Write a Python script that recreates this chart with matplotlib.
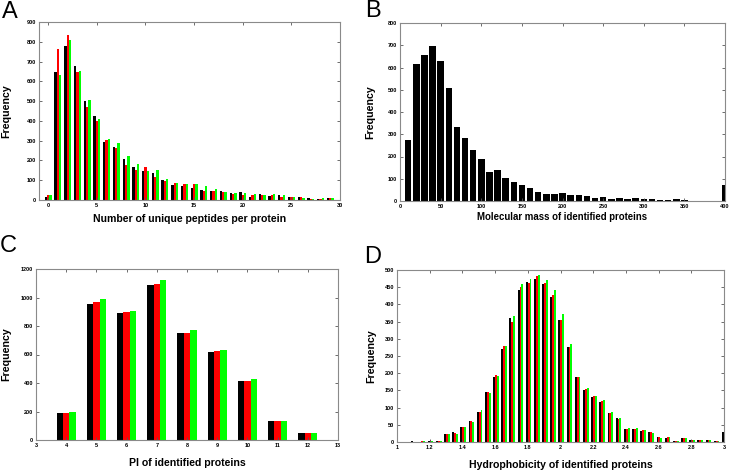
import numpy as np
import matplotlib
matplotlib.use("Agg")
import matplotlib.pyplot as plt

plt.rcParams["font.family"] = ["Liberation Sans", "DejaVu Sans"]

# ==========================================
# data
# ==========================================
# A: unique peptides per protein, three runs
pep_x = list(range(0, 30))
pep_black = [17, 646, 779, 678, 503, 427, 293, 266, 207, 165, 148, 138, 101, 78, 71,
             62, 51, 44, 44, 37, 39, 17, 30, 20, 24, 13, 15, 10, 7, 10]
pep_red = [24, 766, 836, 646, 472, 401, 305, 261, 179, 150, 165, 118, 96, 86, 79,
           79, 47, 44, 42, 30, 25, 24, 25, 27, 15, 15, 13, 7, 5, 10]
pep_green = [27, 631, 807, 653, 508, 408, 309, 287, 221, 182, 145, 153, 105, 86, 79,
             79, 71, 57, 42, 35, 34, 29, 25, 29, 24, 17, 12, 7, 8, 8]

# B: molecular mass histogram
mass_x = [10 * k for k in range(1, 41)]
mass_freq = [272, 615, 658, 696, 628, 509, 334, 285, 230, 191,
             131, 139, 104, 87, 73, 58, 40, 31, 33, 34,
             28, 25, 21, 15, 16, 9, 15, 10, 13, 9,
             7, 4, 5, 8, 3, 2, 1, 1, 1, 73]

# C: pI of identified proteins
pi_x = [4, 5, 6, 7, 8, 9, 10, 11, 12]
pi_black = [190, 955, 888, 1088, 750, 620, 412, 130, 50]
pi_red = [190, 965, 895, 1097, 750, 625, 415, 130, 50]
pi_green = [197, 990, 907, 1120, 772, 630, 428, 132, 50]

# D: hydrophobicity
hyd_x = [round(1.1 + 0.05 * k, 2) for k in range(39)]
hyd_black = [2, 1, 3, 2, 23, 28, 43, 60, 88, 144, 188, 271, 360, 441, 466, 473, 459, 421, 355,
             275, 188, 151, 132, 116, 85, 69, 38, 38, 32, 28, 14, 13, 4, 12, 6, 5, 5, 4, 28]
hyd_red = [1, 2, 5, 2, 23, 25, 43, 60, 88, 144, 195, 280, 350, 450, 461, 484, 461, 428, 355,
           275, 188, 155, 134, 118, 85, 67, 38, 39, 34, 28, 14, 15, 4, 12, 6, 5, 6, 4, 0]
hyd_green = [1, 2, 4, 2, 22, 23, 44, 59, 93, 143, 191, 280, 367, 458, 473, 486, 472, 442, 372,
             285, 188, 158, 135, 121, 86, 70, 40, 41, 35, 27, 13, 15, 4, 11, 5, 5, 5, 4, 0]

FRAME = "#8a8a8a"
COLORS = ["black", "#ff0000", "#00ff00"]


def style_axes(ax, xlim, ylim, xticks, yticks, xlabel, xl_off, yl_off, xl_size=7.6):
    ax.set_xlim(*xlim)
    ax.set_ylim(*ylim)
    ax.set_xticks(xticks)
    ax.set_yticks(yticks)
    ax.tick_params(direction="in", top=True, right=True, length=2, width=0.6,
                   labelsize=4, pad=2, color="#555555")
    for lab in ax.get_xticklabels() + ax.get_yticklabels():
        lab.set_fontweight("bold")
    for sp in ax.spines.values():
        sp.set_color(FRAME)
        sp.set_linewidth(0.8)
    ax.set_xlabel(xlabel, fontsize=xl_size, fontweight="bold")
    ax.xaxis.label.set_va("center")
    ax.xaxis.set_label_coords(0.5, xl_off)
    ax.set_ylabel("Frequency", fontsize=7.7, fontweight="bold")
    ax.yaxis.label.set_va("center")
    ax.yaxis.set_label_coords(yl_off, 0.5)


def grouped(ax, x, series, width, shift=0.0):
    x = np.asarray(x, dtype=float)
    for i, (vals, col) in enumerate(zip(series, COLORS)):
        ax.bar(x + shift + (i - 1) * width, vals, width=width, color=col,
               linewidth=0, align="center")


W, H = 731, 472
fig = plt.figure(figsize=(W / 100, H / 100), dpi=100)


def add_axes(left, top, right, bottom):
    return fig.add_axes([left / W, 1 - bottom / H, (right - left) / W, (bottom - top) / H])


# ==========================================
# A
# ==========================================
axA = add_axes(39, 22, 340, 200)
grouped(axA, pep_x, [pep_black, pep_red, pep_green], 0.24)
style_axes(axA, (-0.95, 30), (0, 900), range(0, 31, 5), range(0, 901, 100),
           "Number of unique peptides per protein", -0.105, -0.11)

# ==========================================
# B
# ==========================================
axB = add_axes(400, 23, 725, 201)
axB.bar(mass_x, mass_freq, width=8, color="black", linewidth=0)
style_axes(axB, (0, 400), (0, 800), range(0, 401, 50), range(0, 801, 100),
           "Molecular mass of identified proteins", -0.09, -0.09, xl_size=6.9)

# ==========================================
# C
# ==========================================
axC = add_axes(36, 269, 338, 440)
grouped(axC, pi_x, [pi_black, pi_red, pi_green], 0.21)
style_axes(axC, (3, 13), (0, 1200), range(3, 14), range(0, 1201, 200),
           "PI of identified proteins", -0.133, -0.10)

# ==========================================
# D
# ==========================================
axD = add_axes(397, 270, 724, 442)
grouped(axD, hyd_x, [hyd_black, hyd_red, hyd_green], 0.0115, shift=0.005)
style_axes(axD, (1, 3), (0, 500), np.round(np.arange(1, 3.01, 0.2), 1), range(0, 501, 50),
           "Hydrophobicity of identified proteins", -0.133, -0.08)
axD.set_xticklabels(["1", "1.2", "1.4", "1.6", "1.8", "2", "2.2", "2.4", "2.6", "2.8", "3"],
                    fontsize=4, fontweight="bold")

# panel letters
for letter, (px, py) in zip("ABCD", [(10, 12), (373, 11), (8, 246), (373, 257)]):
    fig.text(px / W, 1 - py / H, letter, fontsize=17, ha="center", va="center")

fig.savefig("out.png", dpi=100)
